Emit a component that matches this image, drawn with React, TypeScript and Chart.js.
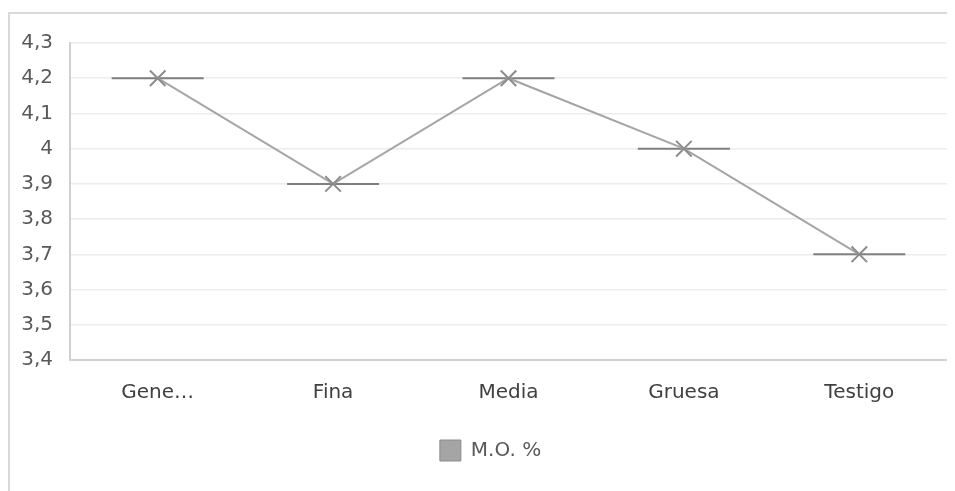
import React, { useEffect, useRef } from "react";
import { Chart, registerables } from "chart.js";

Chart.register(...registerables);

const categories = ["Gene…", "Fina", "Media", "Gruesa", "Testigo"];
const moValues = [4.2, 3.9, 4.2, 4.0, 3.7];
const seriesName = "M.O. %";
const yMin = 3.4;
const yMax = 4.3;
const yStep = 0.1;

const FONT = "'DejaVu Sans', sans-serif";

const legendShift = {
  id: "legendShift",
  afterLayout(chart: any) {
    if (chart.legend) {
      chart.legend.left += 12;
      chart.legend.right += 12;
    }
  },
};

export default function App() {
  const ref = useRef<HTMLCanvasElement | null>(null);

  useEffect(() => {
    if (!ref.current) return;
    const chart = new Chart(ref.current, {
      type: "line",
      data: {
        labels: categories,
        datasets: [
          {
            label: seriesName,
            data: moValues,
            borderColor: "#a5a5a5",
            backgroundColor: "#a5a5a5",
            borderWidth: 2,
            pointStyle: "crossRot",
            pointRadius: 11,
            pointBorderColor: "#8c8c8c",
            pointBorderWidth: 2,
            tension: 0,
            order: 0,
          },
          {
            label: "_dash",
            data: moValues,
            showLine: false,
            pointStyle: "line",
            pointRadius: 46,
            pointBorderColor: "#7f7f7f",
            pointBorderWidth: 2,
            borderColor: "#7f7f7f",
            order: 1,
          },
        ],
      },
      plugins: [legendShift],
      options: {
        animation: false,
        responsive: false,
        layout: { autoPadding: false, padding: { top: 27, right: 8, left: 0, bottom: 20 } },
        plugins: {
          tooltip: { enabled: false },
          legend: {
            position: "bottom",
            labels: {
              color: "#595959",
              font: { family: FONT, size: 20 },
              boxWidth: 21,
              boxHeight: 21,
              padding: 10,
              generateLabels: () => [
                {
                  text: seriesName,
                  fillStyle: "#a5a5a5",
                  strokeStyle: "#8c8c8c",
                  fontColor: "#595959",
                  lineWidth: 1,
                  datasetIndex: 0,
                  hidden: false,
                },
              ],
            },
          },
        },
        scales: {
          x: {
            offset: true,
            grid: { display: false, drawTicks: false },
            border: { color: "#d0d0d0", width: 2 },
            ticks: {
              color: "#404040",
              font: { family: FONT, size: 20 },
              padding: 21,
              maxRotation: 0,
              autoSkip: false,
            },
            afterFit: (s: any) => {
              s.height = 70;
            },
          },
          y: {
            min: yMin,
            max: yMax,
            grid: { color: "#ececec", lineWidth: 1.5, drawTicks: false },
            border: { color: "#d0d0d0", width: 2 },
            ticks: {
              stepSize: yStep,
              color: "#595959",
              font: { family: FONT, size: 20 },
              padding: 17,
              callback: (v: any) => {
                const n = Math.round(Number(v) * 10) / 10;
                return String(n).replace(".", ",");
              },
            },
            afterFit: (s: any) => {
              s.width = 60;
            },
          },
        },
      },
    });
    return () => chart.destroy();
  }, []);

  return (
    <div style={{ paddingTop: 4 }}>
      <div
        style={{
          borderLeft: "2px solid #d9d9d9",
          borderTop: "2px solid #d9d9d9",
          width: 945,
          height: 477,
        }}
      >
        <canvas ref={ref} width={945} height={477} style={{ display: "block" }} />
      </div>
    </div>
  );
}
